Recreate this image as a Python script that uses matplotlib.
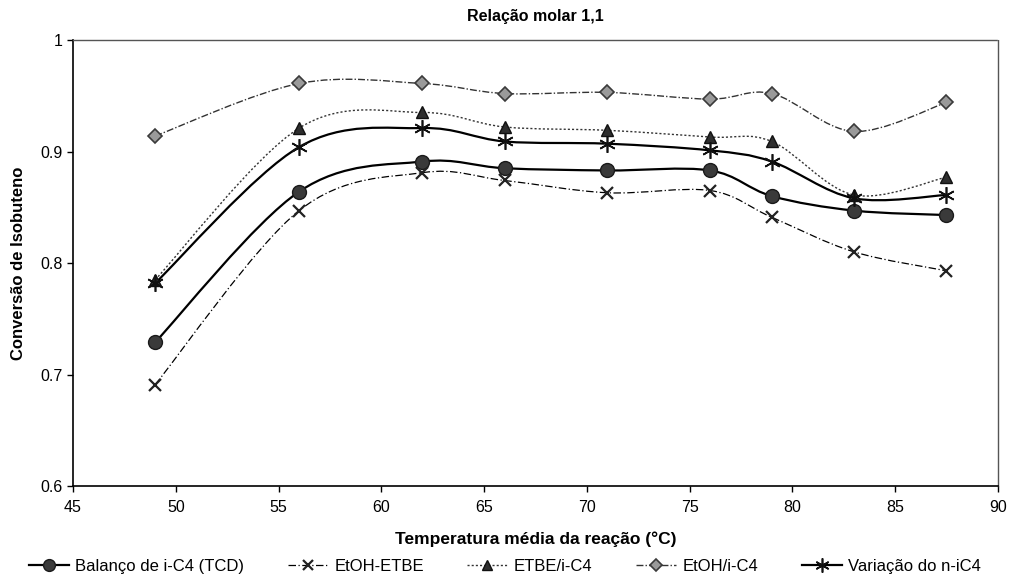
import numpy as np
import matplotlib.pyplot as plt
from matplotlib.path import Path
from matplotlib.patches import PathPatch
from matplotlib.lines import Line2D

plt.rcParams['font.family'] = ['Liberation Sans', 'DejaVu Sans']

temp = [49, 56, 62, 66, 71, 76, 79, 83, 87.5]
balanco = [0.729, 0.864, 0.891, 0.885, 0.883, 0.883, 0.860, 0.847, 0.843]
etoh_etbe = [0.691, 0.847, 0.881, 0.874, 0.863, 0.865, 0.841, 0.810, 0.793]
etbe_ic4 = [0.785, 0.921, 0.935, 0.922, 0.919, 0.913, 0.909, 0.861, 0.877]
etoh_ic4 = [0.914, 0.961, 0.961, 0.952, 0.953, 0.947, 0.952, 0.918, 0.944]
variacao = [0.782, 0.904, 0.921, 0.909, 0.907, 0.901, 0.891, 0.858, 0.861]

labels = ['Balanço de i-C4 (TCD)', 'EtOH-ETBE', 'ETBE/i-C4', 'EtOH/i-C4', 'Variação do n-iC4']


def smooth_path(x, y):
    # excel-like smoothed line: cubic bezier through the points
    p = np.column_stack([x, y]).astype(float)
    n = len(p)
    verts = [p[0]]
    codes = [Path.MOVETO]
    for i in range(n - 1):
        p0 = p[i - 1] if i > 0 else p[i]
        p3 = p[i + 2] if i + 2 < n else p[i + 1]
        c1 = p[i] + (p[i + 1] - p0) / 6
        c2 = p[i + 1] - (p3 - p[i]) / 6
        verts += [c1, c2, p[i + 1]]
        codes += [Path.CURVE4] * 3
    return Path(verts, codes)


fig = plt.figure(figsize=(10.1, 5.84), dpi=100)
ax = fig.add_axes([0.0723, 0.1678, 0.9157, 0.7637])

styles = [
    dict(data=balanco, ls='-', lw=1.6, lc='black', marker='o', ms=10, mfc='#3a3a3a', mec='#1a1a1a', mew=1),
    dict(data=etoh_etbe, ls=(0, (6, 2, 1, 2)), lw=0.9, lc='black', marker='x', ms=9, mfc='none', mec='#222222', mew=1.6),
    dict(data=etbe_ic4, ls=(0, (1.5, 1.5)), lw=1.0, lc='#333333', marker='^', ms=9, mfc='#2e2e2e', mec='#111111', mew=1),
    dict(data=etoh_ic4, ls=(0, (5, 1.5, 1, 1.5)), lw=1.0, lc='#333333', marker='D', ms=7, mfc='#9a9a9a', mec='#3a3a3a', mew=1.2),
    dict(data=variacao, ls='-', lw=1.6, lc='black', marker=(6, 2, 0), ms=12, mfc='black', mec='#111111', mew=1.2),
]

handles = []
for s, lab in zip(styles, labels):
    patch = PathPatch(smooth_path(temp, s['data']), fill=False, edgecolor=s['lc'],
                      lw=s['lw'], linestyle=s['ls'], zorder=2)
    ax.add_patch(patch)
    ax.plot(temp, s['data'], ls='none', marker=s['marker'], ms=s['ms'],
            mfc=s['mfc'], mec=s['mec'], mew=s['mew'], zorder=3)
    handles.append(Line2D([], [], color=s['lc'], ls=s['ls'], lw=s['lw'], marker=s['marker'],
                          ms=s['ms'] * 0.85, mfc=s['mfc'], mec=s['mec'], mew=s['mew']))

ax.set_xlim(45, 90)
ax.set_ylim(0.6, 1.0)
ax.set_xticks(np.arange(45, 91, 5))
ax.set_yticks([0.6, 0.7, 0.8, 0.9, 1.0])
ax.set_yticklabels(['0.6', '0.7', '0.8', '0.9', '1'])
ax.tick_params(direction='out', length=4, width=1, labelsize=11.5, color='black')
ax.tick_params(axis='x', pad=6)

ax.spines['left'].set_linewidth(1.2)
ax.spines['bottom'].set_linewidth(1.2)
for side in ['top', 'right']:
    ax.spines[side].set_linestyle((0, (1, 1)))
    ax.spines[side].set_linewidth(1)
    ax.spines[side].set_color('#555555')

ax.set_title('Relação molar 1,1', fontsize=11.5, fontweight='bold', pad=14)
ax.set_xlabel('Temperatura média da reação (°C)', fontsize=12.5, fontweight='bold', labelpad=12)
ax.set_ylabel('Conversão de Isobuteno', fontsize=12, fontweight='bold', labelpad=10)

fig.legend(handles=handles, labels=labels, loc='lower center', bbox_to_anchor=(0.5, -0.008),
           ncol=5, frameon=False, fontsize=12, handlelength=2.4, handletextpad=0.4,
           columnspacing=2.6)

fig.savefig('out.png', dpi=100)
